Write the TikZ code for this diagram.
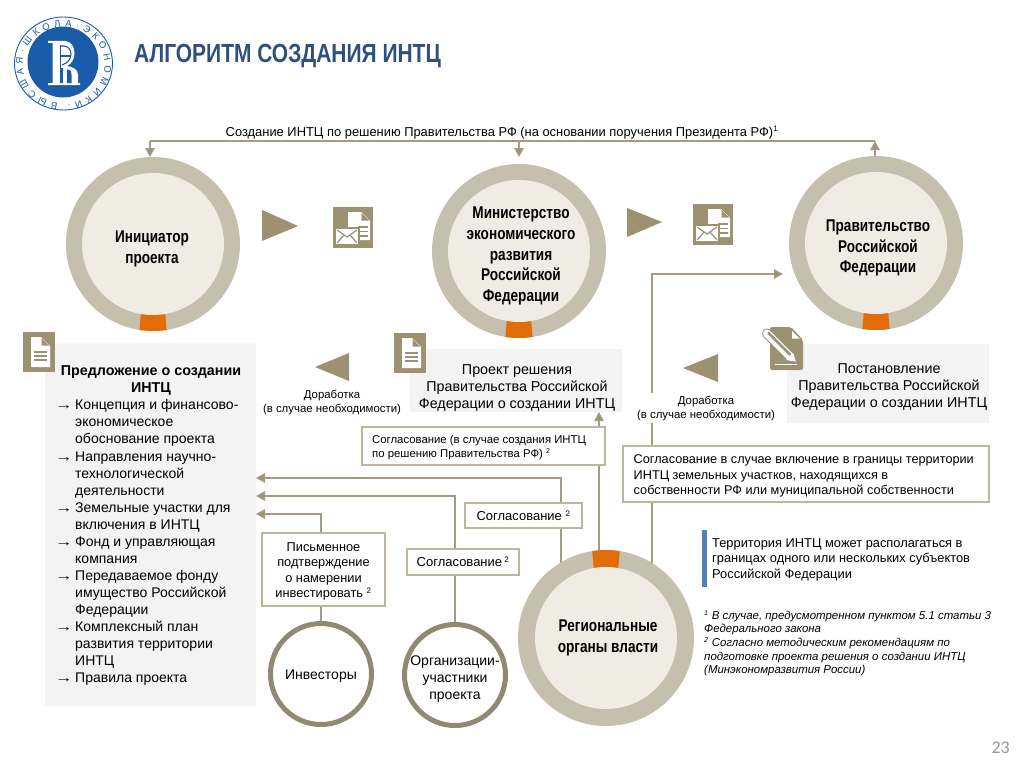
\documentclass[tikz,border=0pt]{standalone}
\usepackage{fontspec}
\usetikzlibrary{arrows.meta,decorations.text,calc}
\setmainfont{Liberation Sans}
\newfontfamily\narrowfont[FakeStretch=0.8]{Liberation Sans}
\newfontfamily\carlitofont{Carlito}
\definecolor{ringc}{HTML}{C5BFAD}
\definecolor{innerc}{HTML}{EFEDE3}
\definecolor{orangec}{HTML}{E36C0A}
\definecolor{linec}{HTML}{A39C82}
\definecolor{boxc}{HTML}{BDB79F}
\definecolor{iconc}{HTML}{9C9272}
\definecolor{smallring}{HTML}{8F8A70}
\definecolor{panelc}{HTML}{F3F3F3}
\definecolor{titlec}{HTML}{2F4F7F}
\definecolor{logoc}{HTML}{1B5CA8}
\definecolor{barc}{HTML}{5482B8}
\pgfdeclarelayer{back}
\pgfsetlayers{back,main}
\newcommand{\arrmark}{\makebox[20pt][l]{\scalebox{1.25}[1]{→}}}
\newcommand{\arrgap}{\makebox[20pt][l]{}}
\tikzset{
  conn/.style={draw=linec,line width=1.4pt},
  arr/.style={conn,-{Triangle[length=9pt,width=9.5pt,fill=iconc]}},
  panel/.style={fill=panelc,draw=none,inner sep=0pt,outer sep=0pt},
  tbox/.style={draw=boxc,fill=white,line width=1.5pt,inner sep=0pt,outer sep=0pt,align=center,font=\fontsize{12.8}{15.4}\selectfont},
  ctitle/.style={align=center,inner sep=0pt,font=\narrowfont\bfseries\fontsize{17}{20.8}\selectfont},
  body/.style={align=center,inner sep=0pt,font=\fontsize{14.3}{17}\selectfont},
  small/.style={align=center,inner sep=1pt,font=\fontsize{11.4}{14}\selectfont},
  tri/.style={fill=iconc,draw=none},
}
\newcommand{\ringnode}[6]{%
  \node[circle,fill=ringc,inner sep=0pt,outer sep=0pt,minimum size=#4*2pt] (#1) at (#2,#3) {};
  \fill[orangec] (#2,#3) ++(#6-9:#4) arc[start angle=#6-9,end angle=#6+9,radius=#4]
     -- ($(#2,#3)+(#6+10:#5-1)$) arc[start angle=#6+10,end angle=#6-10,radius=#5-1] -- cycle;
  \node[circle,fill=innerc,inner sep=0pt,minimum size=#5*2pt] (#1-in) at (#2,#3) {};
}
\newcommand{\smallring}[3]{%
  \node[circle,draw=smallring,fill=white,line width=5pt,inner sep=0pt,outer sep=0pt,minimum size=101pt] (#1) at (#2,#3) {};
}
\newcommand{\docicon}[4]{%
  \begin{scope}[shift={(#1,#2)}]
    \fill[iconc] (0,0) rectangle (#3,#4);
    \begin{scope}[shift={(#3/2-16,#4/2-20)}]
    \fill[white] (8,5) -- (18,5) -- (27,14) -- (27,35) -- (8,35) -- cycle;
    \fill[iconc] (18.5,6) -- (18.5,13.5) -- (26,13.5) -- cycle;
    \foreach \yy in {20,24,28} \draw[iconc,line width=1.6pt] (11,\yy) -- (24,\yy);
    \end{scope}
  \end{scope}
}
\newcommand{\mailicon}[2]{%
  \begin{scope}[shift={(#1,#2)}]
    \fill[iconc] (0,0) rectangle (40,41);
    \fill[white] (15,5) -- (28,5) -- (37,14) -- (37,33) -- (15,33) -- cycle;
    \fill[iconc] (28.5,6) -- (28.5,13.5) -- (36,13.5) -- cycle;
    \foreach \yy in {20,24.5,29} \draw[iconc,line width=1.6pt] (25,\yy) -- (35,\yy);
    \fill[iconc] (1.5,20) rectangle (26.5,39);
    \fill[white] (3,22) rectangle (25,37);
    \draw[iconc,line width=1.2pt] (4,23) -- (14,30) -- (24,23);
    \draw[iconc,line width=1.2pt] (4,36) -- (11,28) (24,36) -- (17,28);
  \end{scope}
}
\begin{document}
\begin{tikzpicture}[x=1pt,y=-1pt]
\useasboundingbox (0,0) rectangle (1024,768);
\begin{pgfonlayer}{back}
\fill[white] (0,0) rectangle (1024,768);
\node[panel,minimum width=211pt,minimum height=363pt] (panL) at (150.5,524.5) {};
\node[panel,minimum width=212pt,minimum height=63pt] (prj) at (516,380.5) {};
\node[panel,minimum width=202pt,minimum height=79pt] (dec) at (888,383.5) {};
\end{pgfonlayer}

% logo
\draw[logoc,line width=0.9pt] (63.5,63.5) ellipse[x radius=49,y radius=46.5];
\node[circle,fill=logoc,inner sep=0pt,outer sep=0pt,minimum size=71pt] (logo) at (63,62) {};
\fill[white] (48,41) -- (65,41) .. controls (71,41) and (74.5,47) .. (74.5,53) .. controls (74.5,60) and (71,64) .. (67,66)
  .. controls (74,67) and (78,70) .. (78,75) -- (78,83) -- (80,83) -- (80,85) -- (48,85) -- (48,83) -- (52.5,83) -- (52.5,43) -- (48,43) -- cycle;
\draw[logoc,line width=1.1pt] (60.5,45) -- (60.5,83);
\draw[logoc,line width=1.1pt] (60.5,46) -- (64,46) .. controls (68,46) and (71,50) .. (71,54) .. controls (71,59) and (68,63) .. (62,65);
\draw[logoc,line width=1.1pt] (61,56) -- (70.5,56);
\fill[logoc] (60.5,67.5) -- (63,67.5) -- (63,83) -- (60.5,83) -- cycle;
\fill[logoc] (67,69.5) -- (69,69.5) .. controls (71,70) and (71.5,72) .. (71.5,75) -- (71.5,83) -- (67,83) -- cycle;
\path[decorate,decoration={text along path,text align=fit to path,
   text={|\fontsize{9.5}{9.5}\selectfont\color{logoc}|ВЫСШАЯ·ШКОЛА·ЭКОНОМИКИ·}}]
   (63.5,63.5) ++(98:40) arc[start angle=98,end angle=445,x radius=41,y radius=38.5];

\node[anchor=west,inner sep=0pt,text=titlec,font=\narrowfont\bfseries\fontsize{26.2}{28}\selectfont] (title) at (134,55.5) {АЛГОРИТМ СОЗДАНИЯ ИНТЦ};
\node[inner sep=1pt,font=\fontsize{12.9}{15}\selectfont] (toptext) at (502,132.5) {Создание ИНТЦ по решению Правительства РФ (на основании поручения Президента РФ)\textsuperscript{\fontsize{8}{8}\selectfont 1}};

% rings
\ringnode{ini}{153}{244}{87}{71}{90}
\ringnode{min}{519}{251}{87}{71}{90}
\ringnode{gov}{876}{243}{87}{71}{90}
\ringnode{reg}{606}{638}{88}{71}{-90}
\smallring{inv}{321}{674}
\smallring{org}{455}{675}

\node[ctitle] (ini-t) at (152,249) {Инициатор\\проекта};
\node[ctitle] (min-t) at (521,256) {Министерство\\экономического\\развития\\Российской\\Федерации};
\node[ctitle] (gov-t) at (878,248) {Правительство\\Российской\\Федерации};
\node[ctitle] (reg-t) at (608,638) {Региональные\\органы власти};
\node[body,font=\fontsize{14}{17}\selectfont] (inv-t) at (321,676) {Инвесторы};
\node[body,font=\fontsize{14}{17}\selectfont] (org-t) at (455,679) {Организации-\\участники\\проекта};

% triangles
\fill[tri] (262,210) -- (298,226) -- (262,241) -- cycle;
\fill[tri] (627,208) -- (662,222) -- (627,237) -- cycle;
\fill[tri] (349,353) -- (315,367) -- (349,381) -- cycle;
\fill[tri] (718,354) -- (683,368) -- (718,382) -- cycle;

% icons
\mailicon{333}{207}
\mailicon{693}{204}
\docicon{23}{332}{32}{40}
\docicon{394}{333}{32}{40}
\begin{scope}
  \fill[iconc,rounded corners=2pt] (770,327) -- (791,327) -- (803,340) -- (803,370) -- (770,370) -- cycle;
  \fill[white] (792,331) -- (792,338.5) -- (799.5,338.5) -- cycle;
  \draw[iconc,line width=10pt,line cap=round] (767,333.5) -- (790,356.5);
  \draw[white,line width=8pt,line cap=round] (767,333.5) -- (790,356.5);
  \draw[iconc,line width=2.5pt,line cap=round] (768.5,333) -- (790,354.5);
  \fill[white] (786,360) -- (793,353) -- (796,361.5) -- cycle;
  \draw[white,line width=1.5pt] (775,364.5) -- (797,364.5);
\end{scope}

% panel texts
\node[inner sep=0pt,align=center,font=\bfseries\fontsize{14.3}{17}\selectfont] (panL-t) at (151,380) {Предложение о создании\\ИНТЦ};
\node[anchor=north west,inner sep=0pt,align=left,font=\fontsize{14}{17.05}\selectfont] (panL-l) at (55,399.5) {%
\arrmark Концепция и финансово-\\
\arrgap экономическое\\
\arrgap обоснование проекта\\
\arrmark Направления научно-\\
\arrgap технологической\\
\arrgap деятельности\\
\arrmark Земельные участки для\\
\arrgap включения в ИНТЦ\\
\arrmark Фонд и управляющая\\
\arrgap компания\\
\arrmark Передаваемое фонду\\
\arrgap имущество Российской\\
\arrgap Федерации\\
\arrmark Комплексный план\\
\arrgap развития территории\\
\arrgap ИНТЦ\\
\arrmark Правила проекта};
\node[body] (prj-t) at (517,388) {Проект решения\\Правительства Российской\\Федерации о создании ИНТЦ};
\node[body] (dec-t) at (889,387) {Постановление\\Правительства Российской\\Федерации о создании ИНТЦ};

\node[small] (rev1) at (332,402.5) {Доработка\\(в случае необходимости)};
\node[small,fill=white,inner sep=3pt] (rev2) at (706,408) {Доработка\\(в случае необходимости)};

% boxes
\node[tbox,minimum width=243pt,minimum height=38pt] (b1) at (483.5,446) {};
\node[anchor=west,inner sep=0pt,align=left,font=\fontsize{11.35}{14.5}\selectfont] (b1-t) at (372,447.5) {Согласование (в случае создания ИНТЦ\\по решению Правительства РФ) \textsuperscript{\fontsize{7}{7}\selectfont 2}};
\node[tbox,minimum width=366pt,minimum height=56pt] (b2) at (806,474) {};
\node[anchor=west,inner sep=0pt,align=left,font=\fontsize{12.7}{15.5}\selectfont] (b2-t) at (633.5,476) {Согласование в случае включение в границы территории\\ИНТЦ земельных участков, находящихся в\\собственности РФ или муниципальной собственности};
\node[tbox,minimum width=117pt,minimum height=25pt,font=\fontsize{13}{15}\selectfont] (b3) at (523.5,515.5) {Согласование \textsuperscript{\fontsize{8}{8}\selectfont 2}};
\node[tbox,minimum width=112pt,minimum height=26pt,font=\fontsize{13}{15}\selectfont] (b4) at (463,562) {Согласование\,\textsuperscript{\fontsize{8}{8}\selectfont 2}};
\node[tbox,minimum width=123pt,minimum height=73pt] (b5) at (323.5,569.5) {};
\node[inner sep=0pt,align=center,font=\fontsize{12.8}{15.4}\selectfont] (b5-t) at (323.5,571.5) {Письменное\\подтверждение\\о намерении\\инвестировать \textsuperscript{\fontsize{8}{8}\selectfont 2}};

% right notes
\node[fill=barc,inner sep=0pt,minimum width=5pt,minimum height=57pt] (bar) at (704.5,558.5) {};
\node[anchor=west,inner sep=0pt,align=left,font=\fontsize{12.85}{15.5}\selectfont] (note) at (712,559.5) {Территория ИНТЦ может располагаться в\\границах одного или нескольких субъектов\\Российской Федерации};
\node[anchor=north west,inner sep=0pt,align=left,font=\itshape\fontsize{11.45}{13.7}\selectfont] (foot) at (704,610) {\textsuperscript{\fontsize{7}{7}\selectfont 1} В случае, предусмотренном пунктом 5.1 статьи 3\\Федерального закона\\\textsuperscript{\fontsize{7}{7}\selectfont 2} Согласно методическим рекомендациям по\\подготовке проекта решения о создании ИНТЦ\\(Минэкономразвития России)};
\node[anchor=east,inner sep=0pt,text=black!40,font=\carlitofont\fontsize{18}{20}\selectfont] (pg) at (1010,748) {23};

% connectors
\coordinate (topL) at (150,141);
\coordinate (topM) at (519,141);
\coordinate (topR) at (875,141);
\coordinate (topLe) at (150,157);
\coordinate (topMe) at (519,157);
\coordinate (gv) at (875,160);
\coordinate (v1) at (599,570);
\coordinate (v2) at (652,590);
\coordinate (v3) at (561,590);
\coordinate (e2) at (783,274);
\coordinate (t1) at (256,478);
\coordinate (t2) at (256,496);
\coordinate (t3) at (256,514);
\begin{pgfonlayer}{back}
  \draw[conn] (topL) -- (topR);
  \draw[arr] (topL) -- (topLe);
  \draw[arr] (topM) -- (topMe);
  \draw[arr] (gv) -- (topR);
  \draw[arr] (v1) -- (v1 |- prj.south);
  \draw[arr] (v2) |- (e2);
  \draw[arr] (v3) |- (t1);
  \draw[arr] (org.north) |- (t2);
  \draw[arr] (inv.north) |- (t3);
\end{pgfonlayer}
\end{tikzpicture}
\end{document}
